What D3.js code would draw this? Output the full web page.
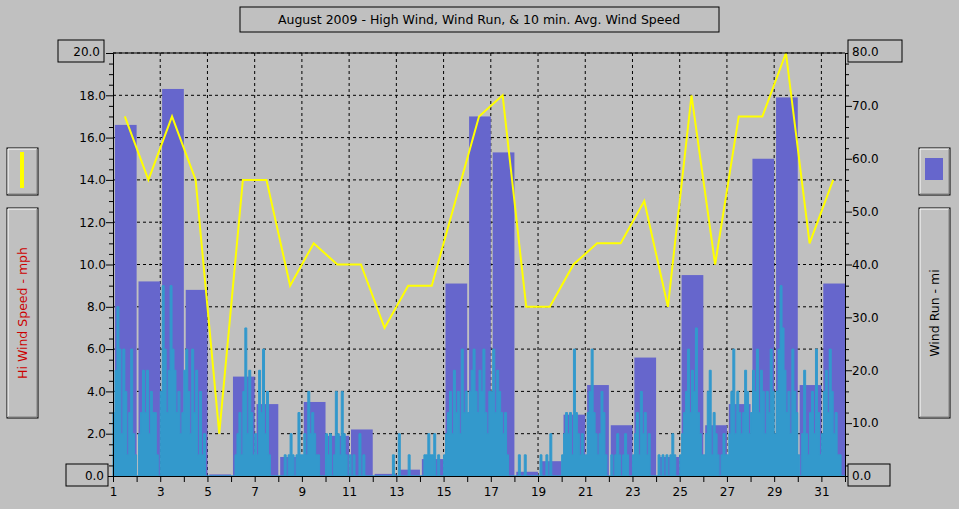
<!DOCTYPE html><html><head><meta charset="utf-8">
<script src="https://cdn.jsdelivr.net/npm/d3@7"></script>
<style>body{margin:0;background:#c0c0c0}svg{display:block}text{font-family:"DejaVu Sans",sans-serif}</style></head><body>
<svg id="c" width="959" height="509"></svg>
<script>
const days=d3.range(1,32);
const windRun=[66.4,36.8,73.2,35.2,0.3,18.8,13.6,3.6,14,7.6,8.8,0.4,1.2,3.2,36.4,68,61.2,0.8,2.8,11.6,17.2,9.6,22.4,3.6,38,9.6,13.6,60,71.6,17.2,36.4];
const hiWind=[17,14,17,14,2,14,14,9,11,10,10,7,9,9,13,17,18,8,8,10,11,11,13,8,18,10,17,17,20,11,14];
const avg10=[
[3,5,8,6,2,6,4,1,3,6,2,1],[0,2,3,5,3,5,2,4,3,3,1,0],[4,9,6,3,5,9,6,5,3,4,2,3],[5,6,4,2,6,3,5,1,4,1,2,0],
[0,0,0,0,0,0,0,0,0,0,0,0],[0,0,1,2,3,1,4,7,2,5,3,1],[2,1,5,3,6,2,4,1,0,0,0,0],[0,0,0,1,0,1,2,1,0,1,3,1],
[1,2,1,4,2,3,2,1,1,0,0,0],[2,1,2,0,1,4,2,1,4,2,1,0],[1,0,1,0,0,2,0,1,0,0,0,0],[0,0,0,0,0,0,0,0,0,0,1,0],
[0,2,0,0,0,0,1,0,0,0,0,0],[0,0,1,1,2,1,1,2,0,1,0,0],[1,2,3,4,2,5,3,4,2,6,3,4],[3,4,5,6,4,3,5,4,6,3,2,4],
[4,6,3,5,4,3,2,3,1,0,0,0],[0,0,1,0,0,1,0,0,0,0,0,0],[0,1,0,0,1,0,2,0,0,0,0,0],[1,2,3,2,3,1,6,3,2,1,2,1],
[1,3,4,6,3,2,1,2,4,3,1,0],[0,1,0,1,2,1,0,1,2,1,0,0],[1,2,3,1,4,2,3,1,2,0,0,0],[0,1,0,1,0,1,0,1,2,1,0,0],
[1,2,3,4,6,3,5,4,7,3,2,1],[1,2,4,5,1,3,2,1,0,1,2,1],[1,2,4,6,2,4,3,2,3,5,4,2],[3,5,4,6,3,5,4,2,4,3,6,4],
[2,4,6,9,7,5,3,4,2,6,4,3],[1,0,2,5,2,1,3,4,2,6,3,1],[2,4,5,3,6,4,2,3,1,1,0,0]];
const leftTicks=d3.range(0,20.1,2), rightTicks=d3.range(0,80.1,10);

const svg=d3.select("#c");
const L=113,R=845,T=53,B=476;
const x=d3.scaleLinear().domain([1,32]).range([L,R]);
const y=d3.scaleLinear().domain([0,20]).range([B,T]);
const y2=d3.scaleLinear().domain([0,80]).range([B,T]);

function box(x0,y0,w,h,fill){svg.append("rect").attr("x",x0).attr("y",y0).attr("width",w).attr("height",h).attr("fill",fill||"#c0c0c0").attr("stroke","#000");}
function bevel(x0,y0,w,h){box(x0,y0,w,h);
 svg.append("path").attr("d",`M${x0+1},${y0+h-1}V${y0+1}H${x0+w-1}`).attr("stroke","#fff").attr("fill","none");
 svg.append("path").attr("d",`M${x0+1},${y0+h-1}H${x0+w-1}V${y0+1}`).attr("stroke","#808080").attr("fill","none");}

// grid
const g=svg.append("g").attr("stroke","#000").attr("stroke-dasharray","3,3").attr("stroke-width",1);
leftTicks.slice(1).forEach(v=>g.append("line").attr("x1",L).attr("x2",R).attr("y1",y(v)).attr("y2",y(v)));
d3.range(3,32,2).forEach(d=>g.append("line").attr("x1",x(d)).attr("x2",x(d)).attr("y1",T).attr("y2",B));

// bars
svg.selectAll(".bar").data(days).enter().append("rect").attr("fill","#6666cc")
 .attr("x",d=>x(d+0.08)).attr("width",x(1.92)-x(1)).attr("y",(d,i)=>y2(windRun[i])).attr("height",(d,i)=>B-y2(windRun[i]));

// 10-min avg
const pts=[];avg10.forEach((arr,i)=>arr.forEach((v,j)=>pts.push([days[i]+j/12,v])));pts.push([32,0]);
svg.append("path").datum(pts).attr("fill","#3399cc").attr("stroke","#3399cc")
 .attr("d",d3.area().curve(d3.curveStepAfter).x(d=>x(d[0])).y0(B).y1(d=>y(d[1])));

// hi wind line
svg.append("path").datum(hiWind).attr("fill","none").attr("stroke","#ffff00").attr("stroke-width",2)
 .attr("d",d3.line().x((d,i)=>x(days[i]+0.5)).y(d=>y(d)));

// axes
const ax=svg.append("g").attr("transform",`translate(0,${B})`).call(d3.axisBottom(x).tickValues(days).tickSize(6).tickFormat(d=>d%2?d:""));
const ay=svg.append("g").attr("transform",`translate(${L},0)`).call(d3.axisLeft(y).tickValues(d3.range(0,20.1,0.5)).tickSize(4).tickFormat(d=>(d%2===0&&d>0&&d<20)?d.toFixed(1):""));
const ay2=svg.append("g").attr("transform",`translate(${R},0)`).call(d3.axisRight(y2).tickValues(d3.range(0,80.1,2)).tickSize(4).tickFormat(d=>(d%10===0&&d>0&&d<80)?d.toFixed(1):""));
[ax,ay,ay2].forEach(a=>{a.select(".domain").attr("stroke","#000");a.selectAll("line").attr("stroke","#000");a.selectAll("text").attr("fill","#000").attr("font-size",12);});
ay.selectAll(".tick line").filter(d=>d%2===0).attr("x2",-7);
ay2.selectAll(".tick line").filter(d=>d%10===0).attr("x2",7);
ax.selectAll("text").attr("dy","0.9em");
svg.append("line").attr("x1",L).attr("x2",R).attr("y1",T).attr("y2",T).attr("stroke","#000");

// title
box(240,7,479,25);
svg.append("text").attr("x",479).attr("y",24).attr("text-anchor","middle").attr("font-size",12.5).text("August 2009 - High Wind, Wind Run, & 10 min. Avg. Wind Speed");
// end labels
box(58,40,46,22);svg.append("text").attr("x",100).attr("y",56).attr("text-anchor","end").attr("font-size",12).text("20.0");
box(66,464,42,22);svg.append("text").attr("x",104).attr("y",480).attr("text-anchor","end").attr("font-size",12).text("0.0");
box(848,40,54,22);svg.append("text").attr("x",852).attr("y",56).attr("font-size",12).text("80.0");
box(848,464,42,22);svg.append("text").attr("x",852).attr("y",480).attr("font-size",12).text("0.0");
// legends
bevel(7,148,31,47);svg.append("rect").attr("x",20).attr("y",152).attr("width",4).attr("height",36).attr("fill","#ffff00");
bevel(919,148,31,47);svg.append("rect").attr("x",925).attr("y",158).attr("width",18).attr("height",22).attr("fill","#6666cc");
bevel(7,208,31,210);svg.append("text").attr("transform","translate(27,313) rotate(-90)").attr("text-anchor","middle").attr("font-size",12.5).attr("fill","#cc0000").text("Hi Wind Speed - mph");
bevel(919,208,31,210);svg.append("text").attr("transform","translate(939,313) rotate(-90)").attr("text-anchor","middle").attr("font-size",12.5).attr("fill","#000").text("Wind Run - mi");
</script></body></html>
